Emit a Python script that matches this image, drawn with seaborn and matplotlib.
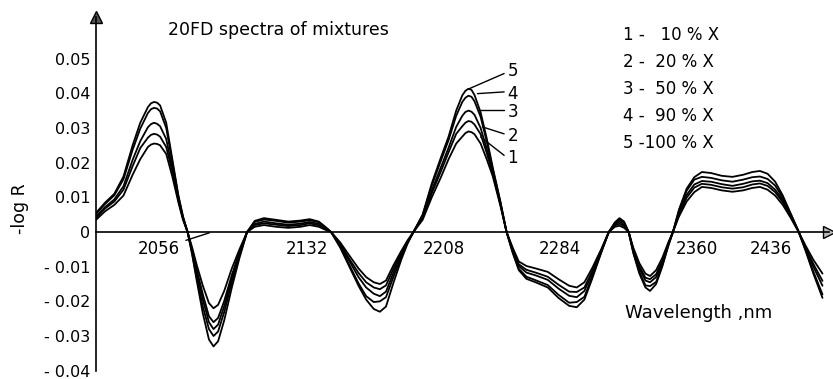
"""
Recreation of the "20FD spectra of mixtures" plot (second derivative spectra, -log R).
"""

import pandas as pd
import matplotlib
matplotlib.use("Agg")
import matplotlib.pyplot as plt
import seaborn as sns

# === DATA ===
WAVELENGTH = [
    1980, 1986, 1992, 1998, 2004, 2009, 2014, 2016, 2018, 2020, 2022, 2026, 2030, 2034, 2037, 2040,
    2043, 2046, 2050, 2054, 2057, 2060, 2064, 2069, 2074, 2079, 2084, 2090, 2098, 2106,
    2114, 2120, 2126, 2131, 2134, 2140, 2146, 2152, 2157, 2162, 2166, 2170, 2175, 2180,
    2184, 2188, 2194, 2200, 2206, 2211, 2216, 2220, 2222, 2224, 2226, 2228, 2232, 2236, 2240, 2245,
    2249, 2253, 2257, 2262, 2268, 2276, 2283, 2290, 2295, 2300, 2305, 2311, 2316, 2320,
    2323, 2326, 2329, 2332, 2336, 2340, 2343, 2347, 2351, 2355, 2358, 2362, 2367, 2372,
    2377, 2383, 2390, 2397, 2404, 2410, 2415, 2420, 2425, 2430, 2435, 2440, 2445, 2450,
    2456,
]

CURVE_1 = [
    .0035, .006, .0078, .0105, .0165, .021, .0245, .0252, .0255, .0254, .025, .0225, .016, .0085, .0035, 0,
    -.0045, -.0095, -.0155, -.0205, -.022, -.021, -.017, -.0105, -.005, 0, .0015, .002, .0015, .0012,
    .0015, .002, .0015, .0005, 0, -.003, -.0068, -.0105, -.013, -.0145, -.015, -.014, -.0095, -.0055,
    -.0025, 0, .0035, .010, .0158, .021, .0255, .0275, .0285, .029, .0288, .0282, .0255, .021, .016, .0075,
    0, -.0045, -.0085, -.0098, -.0105, -.0115, -.0136, -.0155, -.016, -.0145, -.0105, -.005, 0, .0015,
    .0018, .0012, 0, -.0045, -.009, -.012, -.0127, -.011, -.0075, -.003, 0, .0045, .0088, .0115,
    .013, .0127, .012, .0116, .012, .0127, .013, .0122, .0105, .0078, .0042, .0003, -.004, -.008,
    -.012,
]

CURVE_2 = [
    .0040, .0068, .0088, .0122, .019, .0242, .0272, .028, .0283, .0281, .0275, .0245, .0175, .0091, .0038, 0,
    -.0051, -.0108, -.018, -.0243, -.026, -.0248, -.0199, -.0124, -.0058, 0, .002, .0025, .0021, .0017,
    .002, .0025, .0019, .0007, 0, -.0034, -.0078, -.0118, -.0145, -.016, -.0165, -.0154, -.0105, -.006,
    -.0028, 0, .004, .0112, .0175, .023, .0283, .0305, .0315, .032, .0318, .031, .0282, .0228, .0168, .0079,
    0, -.005, -.0093, -.0109, -.0117, -.0129, -.0152, -.0172, -.0173, -.016, -.0114, -.0053, 0, .0019,
    .0024, .0017, 0, -.005, -.0099, -.0132, -.0136, -.0122, -.0083, -.0033, 0, .0051, .0099, .0128,
    .0139, .0136, .0129, .0125, .0129, .0137, .014, .0133, .0115, .0086, .0046, .0004, -.0045, -.0092,
    -.0141,
]

CURVE_3 = [
    .0045, .0072, .0094, .0132, .0208, .0262, .0302, .0311, .0315, .0312, .0305, .0268, .0185, .0095, .004, 0,
    -.0055, -.0118, -.0195, -.026, -.028, -.0267, -.0214, -.0134, -.0063, 0, .0023, .003, .0025, .0021,
    .0024, .0029, .0023, .0009, 0, -.0037, -.0084, -.013, -.016, -.0178, -.0185, -.0172, -.0116, -.0066,
    -.003, 0, .0043, .012, .0187, .0243, .0303, .0335, .0346, .035, .0347, .0338, .030, .024, .0172, .0081,
    0, -.0052, -.0098, -.0117, -.0125, -.0138, -.0163, -.0184, -.0188, -.017, -.012, -.0055, 0, .0022,
    .003, .0021, 0, -.0053, -.0105, -.014, -.0145, -.013, -.0088, -.0035, 0, .0055, .0107, .0137,
    .0147, .0145, .0138, .0133, .0139, .0146, .0148, .0141, .0122, .0092, .0049, .0004, -.0048, -.010,
    -.0155,
]

CURVE_4 = [
    .0052, .0081, .0106, .0152, .0237, .0298, .0343, .0354, .0358, .0356, .0348, .030, .0202, .0102, .0043, 0,
    -.0062, -.0133, -.0215, -.028, -.030, -.0287, -.0231, -.0145, -.0068, 0, .0029, .0036, .0032, .0027,
    .003, .0034, .0028, .0011, 0, -.0042, -.0095, -.0148, -.0185, -.0202, -.020, -.0188, -.0128, -.0072,
    -.0032, 0, .0048, .0134, .0206, .0265, .0335, .0375, .0387, .0393, .039, .0377, .0332, .0261, .018, .0085,
    0, -.0058, -.0106, -.0129, -.0139, -.0153, -.0181, -.0204, -.0202, -.0187, -.013, -.0058, 0, .0026,
    .0035, .0027, 0, -.0058, -.0115, -.0154, -.0156, -.0144, -.0096, -.0038, 0, .0062, .0119, .0151,
    .0159, .0156, .0149, .0145, .0151, .0158, .016, .0153, .0134, .0099, .0053, .0005, -.0053, -.0114,
    -.018,
]

CURVE_5 = [
    .0055, .0085, .011, .016, .025, .0315, .036, .0371, .0375, .0373, .0365, .0315, .021, .0105, .0045, 0,
    -.0065, -.014, -.0235, -.031, -.033, -.0315, -.0255, -.016, -.0075, 0, .0032, .004, .0035, .003,
    .0033, .0037, .003, .0012, 0, -.0045, -.010, -.0155, -.0195, -.0222, -.023, -.0215, -.0145, -.008,
    -.0035, 0, .005, .014, .0215, .0275, .035, .0394, .0407, .0413, .041, .0395, .0345, .027, .0185, .0087,
    0, -.006, -.011, -.0135, -.0145, -.016, -.019, -.0213, -.0217, -.0195, -.0136, -.006, 0, .0028,
    .004, .003, 0, -.006, -.012, -.016, -.017, -.015, -.010, -.004, 0, .0065, .0125, .0158,
    .0173, .017, .0162, .0159, .0165, .0173, .0176, .0168, .0145, .0105, .0055, .0005, -.0055, -.012,
    -.019,
]

CURVE_NAMES = ["1", "2", "3", "4", "5"]
LEGEND_LINES = ["1 -   10 % X", "2 -  20 % X", "3 -  50 % X", "4 -  90 % X", "5 -100 % X"]
XTICKS = [2056, 2132, 2208, 2284, 2360, 2436]
YTICKS = [0.05, 0.04, 0.03, 0.02, 0.01, 0, -0.01, -0.02, -0.03, -0.04]
YTICK_LABELS = ["0.05", "0.04", "0.03", "0.02", "0.01", "0",
                "- 0.01", "- 0.02", "- 0.03", "- 0.04"]

# === MISE EN FORME ===
sns.set_theme(style="white")
plt.rcParams["font.family"] = ["DejaVu Sans"]
plt.rcParams["text.color"] = "black"
plt.rcParams["xtick.color"] = "black"
plt.rcParams["ytick.color"] = "black"

courbes = [CURVE_1, CURVE_2, CURVE_3, CURVE_4, CURVE_5]
df = pd.concat(
    [pd.DataFrame({"wavelength": WAVELENGTH, "logR": vals, "curve": name})
     for name, vals in zip(CURVE_NAMES, courbes)],
    ignore_index=True,
)

fig = plt.figure(figsize=(8.33, 3.79), dpi=100)
ax = fig.add_axes([96 / 833, 8.3 / 379, 732.6 / 833, 353.7 / 379])

sns.lineplot(data=df, x="wavelength", y="logR", hue="curve", units="curve",
             estimator=None, sort=False, palette=["black"] * 5, linewidth=1.3,
             legend=False, ax=ax, solid_joinstyle="round", solid_capstyle="round")

ax.set_xlim(1980, 2460)
ax.set_ylim(-0.04, 0.062)
ax.set_xlabel("")
ax.set_ylabel("")

# axes en croix
ax.spines["top"].set_visible(False)
ax.spines["right"].set_visible(False)
ax.spines["bottom"].set_position(("data", 0))
for s in ("left", "bottom"):
    ax.spines[s].set_linewidth(1.2)
    ax.spines[s].set_color("black")
ax.plot(0, 1, marker="^", color="#555555", markeredgecolor="black", markersize=8,
        transform=ax.transAxes, clip_on=False)
ax.plot(1, 0, marker=">", color="#bbbbbb", markeredgecolor="black", markersize=8,
        transform=ax.get_yaxis_transform(), clip_on=False)

ax.set_yticks(YTICKS)
ax.set_yticklabels(YTICK_LABELS, fontsize=11.5)
ax.tick_params(axis="y", direction="in", length=10, width=1.2, pad=4, colors="black")
ax.set_xticks(XTICKS)
ax.set_xticklabels([])
ax.tick_params(axis="x", direction="in", length=8, width=1, colors="black")

# étiquettes de l'axe x (décalées comme sur l'original)
alignements = {2056: "right", 2132: "right", 2208: "center", 2284: "center",
               2360: "left", 2436: "right"}
for t in XTICKS:
    if t == 2056:
        ax.annotate(str(t), xy=(t, 0), xytext=(2035, -0.0049), ha="right", va="center",
                    fontsize=12, arrowprops=dict(arrowstyle="-", color="black", lw=1))
    else:
        ax.text(t, -0.0049, str(t), ha=alignements[t], va="center", fontsize=12)

# repères des courbes
reperes = {"5": ((2224.4, .0413), (2247.4, .0457), .0465),
           "4": ((2229.9, .0399), (2247.4, .0404), .0398),
           "3": ((2231.0, .0351), (2247.4, .0351), .0345),
           "2": ((2233.2, .0303), (2247.4, .0283), .0276),
           "1": ((2232.0, .0274), (2247.4, .0221), .0212)}
for nom, (debut, fin, ytxt) in reperes.items():
    ax.plot([debut[0], fin[0]], [debut[1], fin[1]], color="black", lw=1)
    ax.text(2249.5, ytxt, nom, ha="left", va="center", fontsize=12)

fig.text(168 / 833, 1 - 30 / 379, "20FD spectra of mixtures", ha="left", va="center", fontsize=12.5)
for i, ligne in enumerate(LEGEND_LINES):
    fig.text(623 / 833, 1 - (35 + 27 * i) / 379, ligne, ha="left", va="center", fontsize=12)
fig.text(625 / 833, 1 - 313 / 379, "Wavelength ,nm", ha="left", va="center", fontsize=13)
fig.text(20 / 833, 1 - 209 / 379, "-log R", ha="center", va="center", rotation=90, fontsize=12.5)

plt.savefig("out.png", dpi=100)
plt.close()
